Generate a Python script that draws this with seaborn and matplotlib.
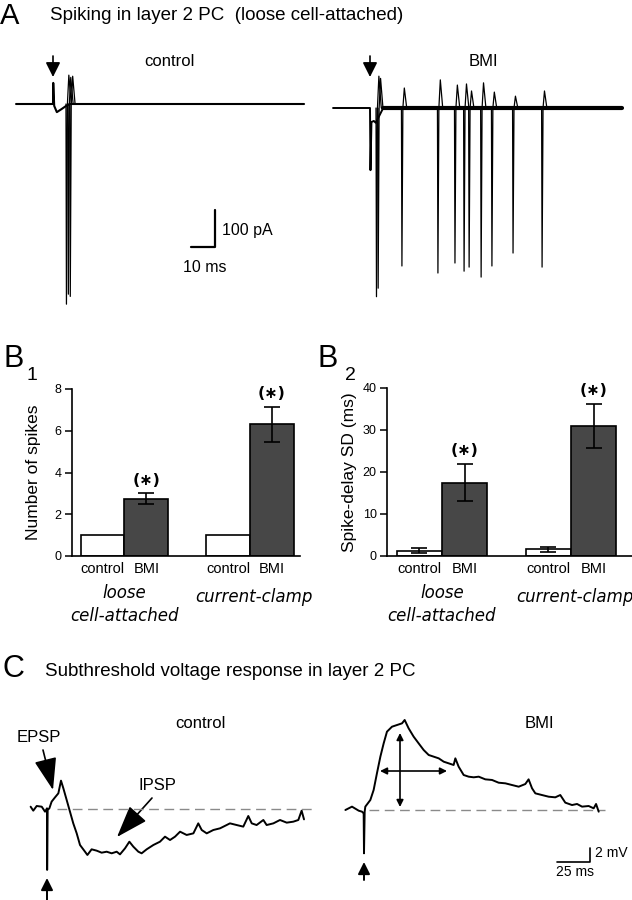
import matplotlib
matplotlib.use("Agg")
import matplotlib.pyplot as plt
import pandas as pd
import seaborn as sns

W, H = 632, 900

# ---- A: loose cell-attached current, t in ms from stimulus, current in pA
a_ctrl_t = [-15.4, 0.0, 0.1, 0.5, 1.6, 3.5, 5.5, 7.0, 104.6]
a_ctrl_v = [0, 0, 57, -5, -22, -14, -5, 0, 0]
a_ctrl_spike_t = [5.6, 6.4, 7.2]
a_ctrl_spike_min = [-541, -514, -520]
a_ctrl_spike_max = [78, 72, 75]

a_bmi_t = [-15.4, 0.0, 0.2, 0.6, 1.6, 2.4, 5.5, 105.0]
a_bmi_v = [0, 0, -168, -38, -35, -40, 0, 0]
a_bmi_spike_t = [2.7, 3.4, 13.3, 28.3, 35.4, 39.2, 41.3, 46.3, 50.8, 59.6, 71.7]
a_bmi_spike_min = [-510, -487, -427, -446, -419, -441, -430, -457, -427, -392, -430]
a_bmi_spike_max = [86, 80, 54, 76, 62, 65, 46, 68, 43, 32, 46]

# ---- B: summary bars
b_recordings = ["loose", "current-clamp"]
b_conditions = ["control", "BMI"]
spikes_ctrl = [1.0, 1.0]
spikes_ctrl_err = [0.0, 0.0]
spikes_bmi = [2.75, 6.3]
spikes_bmi_err = [0.25, 0.86]
sd_ctrl = [1.3, 1.6]
sd_ctrl_err = [0.6, 0.6]
sd_bmi = [17.5, 31.0]
sd_bmi_err = [4.5, 5.3]

# ---- C: subthreshold voltage, t in ms from stimulus, mV from baseline
c_ctrl_t = [-12.4, -10.4, -7.8, -4.0, -1.5, 0.0, 0.1, 0.5, 1.8, 3.5,
            6.1, 8.6, 10.6, 12.4, 14.9, 17.4, 19.9, 22.5, 25.0, 28.8,
            30.6, 33.8, 37.6, 41.4, 45.2, 49.0, 52.8, 55.3, 59.1, 62.4,
            65.4, 69.2, 71.7, 75.5, 80.6, 85.6, 89.4, 93.2, 97.0, 100.8,
            105.8, 110.9, 114.6, 117.2, 121.0, 126.0, 131.1, 136.1, 138.6, 143.7,
            148.7, 152.5, 155.1, 158.8, 163.9, 166.4, 171.5, 176.5, 181.6, 186.6,
            190.4, 192.9, 194.7]
c_ctrl_v = [0.33, -0.24, 0.43, 0.33, -0.38, 0.1, -8.7, -0.14, 0.1, 1.05,
            1.67, 2.24, 4.05, 2.95, 1.29, -0.38, -2.05, -3.48, -5.14, -6.1,
            -6.57, -5.76, -5.95, -6.24, -6.1, -6.33, -6.1, -6.48, -5.62, -4.67,
            -5.38, -6.1, -6.33, -5.76, -5.14, -4.67, -3.95, -4.43, -3.95, -3.24,
            -3.71, -3.48, -2.05, -3.0, -3.48, -3.0, -2.76, -2.29, -2.05, -2.29,
            -2.52, -1.0, -2.05, -2.29, -1.57, -2.29, -2.05, -1.57, -1.95, -1.81,
            -1.57, -0.24, -1.48]
c_bmi_t = [-14.1, -9.1, -4.0, -1.5, -0.25, 0.0, 0.5, 1.0, 4.8, 7.3,
           9.8, 12.4, 14.9, 17.4, 21.2, 25.0, 28.8, 30.8, 33.8, 37.6,
           41.4, 45.2, 49.0, 52.8, 56.6, 60.4, 64.1, 67.9, 69.2, 71.7,
           75.5, 79.3, 83.1, 86.9, 91.9, 97.0, 102.0, 107.1, 112.1, 117.2,
           122.2, 124.7, 127.3, 129.8, 134.8, 139.9, 144.9, 148.7, 152.5, 157.6,
           161.4, 165.2, 170.2, 174.0, 175.8, 177.8]
c_bmi_v = [0.0, 0.48, -0.1, -0.24, -0.48, -6.19, -0.24, 0.48, 1.43, 2.86,
           5.24, 7.62, 9.52, 11.19, 11.9, 12.14, 12.38, 12.86, 11.67, 10.48,
           9.52, 8.57, 7.86, 7.62, 7.38, 6.9, 6.67, 6.43, 7.38, 6.19,
           5.0, 4.76, 4.67, 4.76, 4.38, 4.29, 3.9, 3.81, 3.57, 3.33,
           3.71, 4.38, 3.1, 2.38, 2.14, 1.9, 1.81, 2.14, 1.05, 0.71,
           0.86, 0.48, 0.57, 0.24, 0.86, -0.24]
c_ctrl_dash = (7.6, 203.0)
c_bmi_dash = (3.8, 182.6)

sns.set_style("white")
plt.rcParams["font.family"] = ["Liberation Sans", "DejaVu Sans"]
plt.rcParams.update({"axes.edgecolor": "black", "text.color": "black",
                     "xtick.color": "black", "ytick.color": "black",
                     "axes.labelcolor": "black"})

fig = plt.figure(figsize=(W / 100, H / 100), dpi=100)
lay = fig.add_axes([0, 0, 1, 1])
lay.set_xlim(0, W)
lay.set_ylim(H, 0)
lay.axis("off")


def label(x, y, s, size=12, ha="left", **kw):
    lay.text(x, y, s, fontsize=size, ha=ha, va="center", **kw)


def arrow(x0, y0, x1, y1, style="-|>", ms=20, lw=1.2):
    lay.annotate("", xy=(x1, y1), xytext=(x0, y0),
                 arrowprops=dict(arrowstyle=style, mutation_scale=ms, lw=lw,
                                 color="black", shrinkA=0, shrinkB=0))


def trace_axes(box, t0, v0, px_ms, px_unit):
    l, t, r, b = box
    ax = fig.add_axes([l / W, 1 - b / H, (r - l) / W, (b - t) / H])
    ax.set_xlim((l - t0) / px_ms, (r - t0) / px_ms)
    ax.set_ylim((v0 - b) / px_unit, (v0 - t) / px_unit)
    ax.axis("off")
    return ax


def trace(ax, t, v, lw=1.2):
    sns.lineplot(x=t, y=v, sort=False, estimator=None, color="black",
                 linewidth=lw, ax=ax)


def spikes(ax, times, lows, highs, lw=0.9):
    for ts, lo, hi in zip(times, lows, highs):
        trace(ax, [ts - 0.2, ts, ts + 0.4, ts + 1.0, ts + 2.0],
              [0, lo, 0, hi, 0], lw=lw)


# ---------------- A
label(0, 16, "A", size=21)
label(50, 16, "Spiking in layer 2 PC  (loose cell-attached)", size=13.5)
label(169, 62, "control", ha="center")
label(483, 62, "BMI", ha="center")

ax = trace_axes((5, 40, 318, 320), 53, 104, 2.4, 0.37)
trace(ax, a_ctrl_t, a_ctrl_v, lw=1.5)
spikes(ax, a_ctrl_spike_t, a_ctrl_spike_min, a_ctrl_spike_max)
ax.plot([57.5, 67.5, 67.5], [-386.5, -386.5, -286.5], color="black", lw=1.6)
arrow(53, 56, 53, 77, ms=22)
label(222, 230, "100 pA", size=11.5)
label(205, 268, "10 ms", size=11.5, ha="center")

ax = trace_axes((322, 40, 632, 320), 370, 108, 2.4, 0.37)
trace(ax, a_bmi_t, a_bmi_v, lw=1.4)
trace(ax, a_bmi_t[-2:], a_bmi_v[-2:], lw=3.0)
spikes(ax, a_bmi_spike_t, a_bmi_spike_min, a_bmi_spike_max)
arrow(370, 56, 370, 77, ms=22)


# ---------------- B
def bar_panel(box, ctrl, ctrl_err, bmi, bmi_err, xlim, ymax, yticks, ylabel, ylab_x):
    l, t, r, b = box
    ax = fig.add_axes([l / W, 1 - b / H, (r - l) / W, (b - t) / H])
    df = pd.DataFrame({"recording": b_recordings * 2,
                       "condition": ["control"] * 2 + ["BMI"] * 2,
                       "value": ctrl + bmi, "err": ctrl_err + bmi_err})
    sns.barplot(data=df, x="recording", y="value", hue="condition",
                order=b_recordings, hue_order=b_conditions,
                palette={"control": "white", "BMI": "#474747"}, saturation=1,
                edgecolor="black", linewidth=1.2, width=0.7, errorbar=None,
                legend=False, ax=ax)
    bars = sorted(ax.patches, key=lambda p: p.get_x())
    df["r"] = df["recording"].map(b_recordings.index)
    df["c"] = df["condition"].map(b_conditions.index)
    df = df.sort_values(["r", "c"]).reset_index(drop=True)
    df["x"] = [p.get_x() + p.get_width() / 2 for p in bars]
    e = df[df["err"] > 0]
    ax.errorbar(e["x"], e["value"], yerr=e["err"], fmt="none", ecolor="black",
                elinewidth=1.2, capsize=6, capthick=1.2, zorder=5)
    for _, row in df[df["condition"] == "BMI"].iterrows():
        ax.annotate("(\u2217)", xy=(row["x"], row["value"] + row["err"]),
                    xytext=(0, 9.5), textcoords="offset points", ha="center",
                    va="center", fontsize=11.5, family="DejaVu Sans",
                    fontweight="bold")
    ax.set_xlim(*xlim)
    ax.set_ylim(0, ymax)
    ax.set_yticks(yticks)
    ax.set_xticks(df["x"], df["condition"])
    ax.tick_params(axis="y", left=True, length=5, width=1.1, pad=2.5, labelsize=9)
    ax.tick_params(axis="x", length=0, pad=4, labelsize=10.5)
    ax.spines[["top", "right"]].set_visible(False)
    for s in ("left", "bottom"):
        ax.spines[s].set_linewidth(1.2)
    ax.set_xlabel("")
    ax.set_ylabel(ylabel, fontsize=12.5)
    ax.yaxis.set_label_coords(ylab_x, 0.5)
    for i, name in enumerate(["loose", "cell-attached"]):
        ax.annotate(name, xy=(0, 0), xycoords=("data", "axes fraction"),
                    xytext=(0, -26.6 - 16.6 * i), textcoords="offset points",
                    ha="center", va="center", fontsize=12,
                    family="DejaVu Sans", style="italic")
    ax.annotate("current-clamp", xy=(1, 0), xycoords=("data", "axes fraction"),
                xytext=(3, -29.5), textcoords="offset points", ha="center",
                va="center", fontsize=12, family="DejaVu Sans", style="italic")
    return ax


label(3, 359, "B", size=22)
label(27, 376, "1", size=14)
bar_panel((72, 389, 300, 556), spikes_ctrl, spikes_ctrl_err, spikes_bmi,
          spikes_bmi_err, (-0.418, 1.398), 8, [0, 2, 4, 6, 8],
          "Number of spikes", -0.136)

label(317, 359, "B", size=22)
label(345, 375, "2", size=14)
bar_panel((387, 388, 632, 556), sd_ctrl, sd_ctrl_err, sd_bmi, sd_bmi_err,
          (-0.426, 1.473), 40, [0, 10, 20, 30, 40],
          "Spike-delay SD (ms)", -0.122)

# ---------------- C
label(2, 669, "C", size=22)
label(45, 672, "Subthreshold voltage response in layer 2 PC", size=13.5)
label(200, 723, "control", ha="center")
label(539, 723, "BMI", ha="center")
label(39, 738, "EPSP", ha="center")
label(157, 785, "IPSP", ha="center")

ax = trace_axes((20, 690, 320, 900), 47, 809, 1.32, 7.0)
ax.hlines(0, *c_ctrl_dash, colors="#8a8a8a", linewidth=1, linestyles=(0, (7, 4)))
trace(ax, c_ctrl_t, c_ctrl_v, lw=1.4)

ax = trace_axes((330, 690, 632, 900), 364, 810, 1.32, 7.0)
ax.hlines(0, *c_bmi_dash, colors="#8a8a8a", linewidth=1, linestyles=(0, (7, 4)))
trace(ax, c_bmi_t, c_bmi_v, lw=1.4)
ax.plot([146.2, 171.2, 171.2], [-7.43, -7.43, -5.43], color="black", lw=1.2)
label(595, 853, "2 mV", size=10)
label(575, 872, "25 ms", size=10, ha="center")

arrow(43, 750, 53, 790, style="-|>,head_length=1.0,head_width=0.35", ms=20)
arrow(152, 798, 117, 837, style="-|>,head_length=1.0,head_width=0.35", ms=20)
arrow(47, 900, 47, 878, ms=18, lw=1.4)
arrow(364, 880, 364, 862, ms=18, lw=1.4)
arrow(400, 733, 400, 807, style="<|-|>", ms=10, lw=1.2)
arrow(380, 771, 447, 771, style="<|-|>", ms=10, lw=1.2)

fig.savefig("out.png", dpi=100)
